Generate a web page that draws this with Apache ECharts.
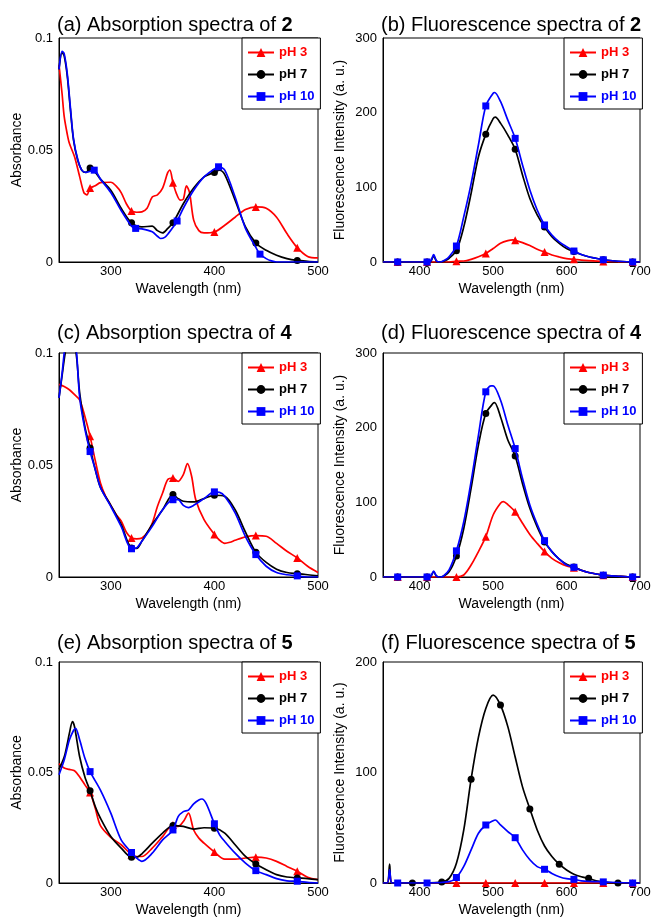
<!DOCTYPE html>
<html><head><meta charset="utf-8">
<script src="https://cdn.jsdelivr.net/npm/echarts@6/dist/echarts.min.js"></script>
<style>html,body{margin:0;padding:0;background:#fff}#c{width:654px;height:919px}</style>
</head><body><div id="c"></div>
<script>
// ---------- (a) Absorption spectra of 2 ----------
const a_pH3 = [[250,0.088],[253,0.075],[255,0.065],[258,0.057],[260,0.053],[265,0.047],[270,0.038],[274,0.031],[277,0.030],[280,0.033],[285,0.034],[290,0.0354],[300,0.0356],[305,0.034],[310,0.031],[315,0.026],[320,0.0228],[325,0.0222],[330,0.0224],[335,0.024],[340,0.029],[345,0.030],[350,0.033],[355,0.040],[357,0.041],[360,0.0354],[363,0.031],[367,0.0276],[370,0.028],[373,0.034],[376,0.031],[380,0.0187],[385,0.014],[390,0.013],[400,0.0134],[410,0.0164],[420,0.020],[430,0.0234],[440,0.0246],[450,0.024],[460,0.020],[470,0.0127],[480,0.0064],[490,0.0025],[500,0.0018]];
const a_pH7 = [[250,0.086],[253,0.0935],[255,0.092],[258,0.083],[261,0.068],[264,0.0545],[268,0.0455],[272,0.041],[276,0.040],[280,0.042],[285,0.040],[290,0.037],[300,0.032],[310,0.024],[320,0.0175],[330,0.0157],[340,0.016],[345,0.014],[350,0.013],[355,0.015],[360,0.0175],[370,0.026],[380,0.033],[390,0.038],[400,0.040],[405,0.041],[410,0.039],[420,0.0276],[430,0.0157],[440,0.0085],[450,0.0052],[460,0.003],[470,0.0015],[480,0.0007],[490,0.0003],[500,0.0]];
const a_pH10 = [[250,0.086],[253,0.094],[255,0.093],[258,0.084],[261,0.069],[264,0.055],[268,0.046],[272,0.041],[276,0.040],[280,0.0405],[284,0.041],[290,0.037],[300,0.031],[310,0.023],[320,0.016],[324,0.015],[330,0.0148],[340,0.0135],[345,0.0115],[348,0.0105],[352,0.011],[356,0.013],[360,0.0155],[364,0.0183],[370,0.024],[380,0.032],[390,0.038],[400,0.0415],[404,0.0425],[410,0.041],[420,0.029],[430,0.015],[440,0.0065],[444,0.0035],[450,0.0015],[455,0.0005],[460,0],[500,0]];
const mA_pH3 = [280,320,360,400,440,480];
const mA_pH7 = [280,320,360,400,440,480];
const mA_pH10 = [284,324,364,404,444];

// ---------- (b) Fluorescence spectra of 2 ----------
const b_pH3 = [[350,0],[370,0],[410,0],[440,0],[450,1],[460,1.3],[470,3.6],[480,7],[490,11.5],[500,18],[510,25],[520,28.6],[527,29.5],[530,29],[540,26],[550,22],[560,17],[570,13.4],[580,9.4],[590,6.7],[600,4.5],[610,3.6],[620,2.5],[630,1.8],[650,0.8],[670,0.3],[690,0],[700,0]];
const b_pH7 = [[350,0],[370,0],[410,0],[415,1],[419,8],[423,1],[428,0],[435,2],[440,5],[450,15.2],[460,47],[470,92],[480,141],[490,171],[500,192],[503,194],[510,186],[520,170],[530,151],[540,116.5],[550,85],[560,63],[570,47],[580,34],[590,25],[600,18],[610,14],[620,10],[630,7],[640,5],[650,3],[670,1],[690,0],[700,0]];
const b_pH10 = [[350,0],[370,0],[410,0],[415,1],[419,10],[423,1],[428,0],[435,3],[440,7],[450,21.4],[460,60.7],[470,105],[480,157],[490,209],[500,226],[502,227],[510,215],[520,190],[530,165.6],[540,130],[550,96.4],[560,69.6],[570,49.6],[580,36],[590,27],[600,20.5],[610,14.7],[620,10],[630,7],[640,5],[650,3],[670,1],[690,0],[700,0]];
const mB = [370,410,450,490,530,570,610,650,690];

// ---------- (c) Absorption spectra of 4 ----------
const c_pH3 = [[250,0.086],[255,0.085],[260,0.0836],[265,0.0814],[270,0.079],[275,0.0717],[280,0.0628],[285,0.052],[290,0.042],[295,0.036],[300,0.032],[305,0.028],[310,0.025],[315,0.020],[320,0.0174],[325,0.017],[330,0.0174],[335,0.0196],[340,0.024],[345,0.0315],[350,0.0375],[355,0.0435],[360,0.0442],[365,0.0427],[370,0.0457],[374,0.0506],[378,0.045],[382,0.0345],[390,0.0256],[400,0.019],[405,0.0164],[410,0.015],[415,0.0155],[420,0.0164],[430,0.0179],[440,0.0185],[450,0.0182],[460,0.015],[470,0.0115],[480,0.0085],[490,0.0048],[500,0.002]];
const c_pH7 = [[250,0.080],[253,0.090],[256,0.100],[260,0.108],[264,0.106],[267,0.098],[270,0.082],[275,0.067],[280,0.0576],[285,0.048],[290,0.040],[300,0.032],[310,0.0235],[320,0.013],[325,0.0128],[330,0.016],[340,0.0235],[350,0.030],[360,0.0368],[365,0.035],[370,0.0338],[380,0.0335],[390,0.035],[400,0.0365],[410,0.036],[420,0.030],[430,0.020],[440,0.011],[450,0.0065],[460,0.0035],[470,0.002],[480,0.0015],[490,0.001],[500,0.0005]];
const c_pH10 = [[250,0.080],[253,0.091],[255,0.100],[258,0.112],[261,0.116],[264,0.112],[267,0.100],[270,0.080],[275,0.066],[280,0.056],[285,0.048],[290,0.040],[300,0.0315],[310,0.0226],[320,0.0126],[325,0.013],[330,0.016],[340,0.0226],[350,0.030],[360,0.0345],[365,0.0345],[370,0.032],[375,0.031],[380,0.032],[390,0.035],[400,0.038],[405,0.0378],[410,0.036],[420,0.0286],[430,0.018],[440,0.010],[450,0.0048],[460,0.002],[470,0.001],[480,0.0005],[490,0],[500,0]];
const mC = [280,320,360,400,440,480];

// ---------- (d) Fluorescence spectra of 4 ----------
const d_pH3 = [[350,0],[370,0],[410,0],[450,0],[460,2.7],[470,16],[480,34],[490,54],[500,83],[510,98.7],[514,101],[520,97],[530,87.5],[540,72],[550,57],[560,45],[570,34],[580,25],[590,19],[600,14.7],[610,12.5],[620,9],[630,6],[650,2.5],[670,1],[690,0],[700,0]];
const d_pH7 = [[350,0],[370,0],[410,0],[415,1],[419,7],[423,1],[428,0],[440,7],[450,28],[460,65],[470,119],[480,177],[490,219],[500,232.6],[502,233.5],[510,214.7],[520,183.5],[530,162],[540,125],[550,92],[560,67],[570,47],[580,34],[590,24],[600,17],[610,13.4],[620,9],[630,6],[650,2.5],[670,1],[690,0],[700,0]];
const d_pH10 = [[350,0],[370,0],[410,0],[415,1],[419,8],[423,1],[428,0],[432,1],[440,9.4],[450,35],[460,74],[470,128],[480,190],[490,248],[497,256],[500,256],[510,237],[520,203.6],[530,172],[540,132],[550,96.4],[560,70.5],[570,48.7],[580,34],[590,24],[600,16],[610,13],[620,9],[630,6],[650,2.5],[670,1],[690,0],[700,0]];
const mD = [370,410,450,490,530,570,610,650,690];

// ---------- (e) Absorption spectra of 5 ----------
const e_pH3 = [[250,0.054],[255,0.052],[260,0.0514],[265,0.0508],[270,0.048],[275,0.0444],[280,0.041],[285,0.0338],[290,0.026],[300,0.0207],[310,0.0173],[320,0.0128],[325,0.012],[330,0.012],[340,0.0158],[350,0.021],[360,0.0263],[365,0.0256],[370,0.0278],[375,0.0316],[380,0.024],[385,0.0203],[390,0.018],[400,0.014],[410,0.0108],[420,0.0108],[430,0.0113],[440,0.0117],[450,0.0113],[460,0.0098],[470,0.0075],[480,0.0053],[490,0.0026],[500,0.0015]];
const e_pH7 = [[250,0.0514],[255,0.057],[258,0.063],[260,0.0677],[263,0.073],[265,0.0707],[270,0.057],[275,0.048],[280,0.0417],[285,0.0346],[290,0.0293],[300,0.021],[310,0.0158],[320,0.0117],[325,0.0117],[330,0.0132],[340,0.018],[350,0.0226],[360,0.026],[370,0.0256],[380,0.0244],[390,0.025],[400,0.0248],[410,0.0226],[420,0.0173],[430,0.012],[440,0.0086],[450,0.006],[460,0.0038],[470,0.0027],[480,0.0023],[490,0.002],[500,0.0015]];
const e_pH10 = [[250,0.049],[255,0.0556],[260,0.0647],[264,0.069],[266,0.070],[270,0.0647],[275,0.0564],[280,0.0504],[290,0.042],[300,0.0316],[310,0.0195],[320,0.0138],[325,0.0113],[330,0.0098],[340,0.0135],[350,0.0195],[360,0.024],[365,0.030],[370,0.0323],[375,0.033],[380,0.0358],[385,0.0376],[388,0.038],[392,0.036],[400,0.0268],[405,0.0218],[410,0.0188],[420,0.0135],[430,0.009],[440,0.0056],[450,0.0038],[460,0.002],[470,0.001],[480,0.0008],[490,0.0003],[500,0]];
const mE = [280,320,360,400,440,480];

// ---------- (f) Fluorescence spectra of 5 ----------
const f_pH3 = [[350,0],[356,0],[359,10],[362,0],[370,0],[410,0],[450,0],[490,0],[530,0],[570,0],[610,0],[650,0],[690,0],[700,0]];
const f_pH7 = [[350,0],[356,0],[359,17],[362,0],[390,0],[430,0.9],[440,4.2],[450,17.8],[460,48],[470,94],[480,132],[490,158],[500,170],[510,161],[520,141.5],[530,114],[540,87],[550,67],[560,48],[570,33.5],[580,24],[590,17],[600,11.8],[610,8],[620,5.7],[630,4.2],[640,2],[650,1],[670,0],[700,0]];
const f_pH10 = [[350,0],[356,0],[359,12],[362,0],[370,0],[410,0],[440,1.2],[450,5],[460,15],[470,30],[480,45],[490,52.5],[500,56.4],[503,57],[510,52.5],[520,46.5],[530,41],[540,30],[550,21],[560,14.8],[570,12.4],[580,8.7],[590,5.7],[600,3.9],[610,3.3],[620,2],[650,1],[690,0],[700,0]];
const mF_pH3 = [450,490,530,570,610,650,690];
const mF_pH7 = [390,430,470,510,550,590,630,670];
const mF_pH10 = [370,410,450,490,530,570,610,650,690];

// ---------- axis settings / labels ----------
const absX = {min:250, max:500, interval:50};
const fluX = {min:350, max:700, interval:50};
const absY = {min:0, max:0.1, interval:0.05};
const fluY300 = {min:0, max:300, interval:100};
const fluY200 = {min:0, max:200, interval:100};
const names = ['pH 3','pH 7','pH 10'];
const xName = 'Wavelength (nm)';
const absName = 'Absorbance';
const fluName = 'Fluorescence Intensity (a. u.)';

const FONT = "'Liberation Sans', Arial, sans-serif";
const COLORS = {'pH 3':'#ff0000','pH 7':'#000000','pH 10':'#0000ff'};
const SYMBOLS = {'pH 3':'triangle','pH 7':'circle','pH 10':'rect'};
const SIZES = {'pH 3':8,'pH 7':7,'pH 10':7};

const panels = [
  {t:'(a) Absorption spectra of ', n:'2', g:{left:59,top:38,width:259,height:224}, x:absX, y:absY, yn:absName, yg:34, s:[[a_pH3,mA_pH3],[a_pH7,mA_pH7],[a_pH10,mA_pH10]], tt:15},
  {t:'(b) Fluorescence spectra of ', n:'2', g:{left:383,top:38,width:257,height:224}, x:fluX, y:fluY300, yn:fluName, yg:36, s:[[b_pH3,mB],[b_pH7,mB],[b_pH10,mB]], tt:15},
  {t:'(c) Absorption spectra of ', n:'4', g:{left:59,top:353,width:259,height:224}, x:absX, y:absY, yn:absName, yg:34, s:[[c_pH3,mC],[c_pH7,mC],[c_pH10,mC]], tt:323},
  {t:'(d) Fluorescence spectra of ', n:'4', g:{left:383,top:353,width:257,height:224}, x:fluX, y:fluY300, yn:fluName, yg:36, s:[[d_pH3,mD],[d_pH7,mD],[d_pH10,mD]], tt:323},
  {t:'(e) Absorption spectra of ', n:'5', g:{left:59,top:662,width:259,height:221}, x:absX, y:absY, yn:absName, yg:34, s:[[e_pH3,mE],[e_pH7,mE],[e_pH10,mE]], tt:633},
  {t:'(f) Fluorescence spectra of ', n:'5', g:{left:383,top:662,width:257,height:221}, x:fluX, y:fluY200, yn:fluName, yg:36, s:[[f_pH3,mF_pH3],[f_pH7,mF_pH7],[f_pH10,mF_pH10]], tt:633}
];

const mk = (arr, marks) => arr.map(p => marks.some(m => Math.abs(m - p[0]) < 0.01) ? {value:p} : {value:p, symbol:'none'});

const option = {
  backgroundColor:'#fff',
  animation:false,
  title:[], grid:[], xAxis:[], yAxis:[], legend:[], series:[]
};

panels.forEach((p, i) => {
  option.title.push({
    left: p.g.left - 2, top: p.tt, padding: 0,
    text: '{n|' + p.t + '}{b|' + p.n + '}',
    textStyle: {fontWeight:'normal', rich: {
      n: {fontSize:20, fontFamily:FONT, color:'#000', fontWeight:'normal'},
      b: {fontSize:20, fontFamily:FONT, color:'#000', fontWeight:'bold'}
    }}
  });
  option.grid.push(Object.assign({show:true, borderColor:'#000', borderWidth:1, backgroundColor:'#fff', containLabel:false}, p.g));
  option.xAxis.push({
    type:'value', gridIndex:i, min:p.x.min, max:p.x.max, interval:p.x.interval,
    name:xName, nameLocation:'middle', nameGap:20,
    nameTextStyle:{fontFamily:FONT, fontSize:14, color:'#000'},
    axisLine:{show:true, onZero:false, lineStyle:{color:'#000', width:1}},
    axisTick:{show:false}, splitLine:{show:false},
    axisLabel:{fontFamily:FONT, fontSize:13, color:'#000', margin:3,
      formatter: v => (v % 100 === 0 ? String(v) : '')}
  });
  option.yAxis.push({
    type:'value', gridIndex:i, min:p.y.min, max:p.y.max, interval:p.y.interval,
    name:p.yn, nameLocation:'middle', nameGap:p.yg,
    nameTextStyle:{fontFamily:FONT, fontSize:14, color:'#000'},
    axisLine:{show:true, lineStyle:{color:'#000', width:1}},
    axisTick:{show:false}, splitLine:{show:false},
    axisLabel:{fontFamily:FONT, fontSize:13, color:'#000', margin:6}
  });
  option.legend.push({
    left: p.g.left + p.g.width - 76, top: p.g.top,
    orient:'vertical', borderColor:'#000', borderWidth:1, backgroundColor:'#fff',
    padding:[8,6,6,5], itemGap:9, itemWidth:26, itemHeight:11,
    selectedMode:false,
    textStyle:{fontFamily:FONT, fontSize:13, fontWeight:'bold'},
    data: names.map(nm => ({name:nm, textStyle:{color:COLORS[nm]}}))
  });
  p.s.forEach((pair, k) => {
    const nm = names[k];
    option.series.push({
      type:'line', name:nm, xAxisIndex:i, yAxisIndex:i,
      data: mk(pair[0], pair[1]),
      smooth:0.3, clip:true,
      symbol:SYMBOLS[nm], symbolSize:SIZES[nm], showSymbol:true,
      lineStyle:{color:COLORS[nm], width:1.7},
      itemStyle:{color:COLORS[nm]},
      emphasis:{disabled:true}, z: 2 + k
    });
  });
});

const chart = echarts.init(document.getElementById('c'), null, {renderer:'canvas'});
chart.setOption(option);
</script>
</body></html>
